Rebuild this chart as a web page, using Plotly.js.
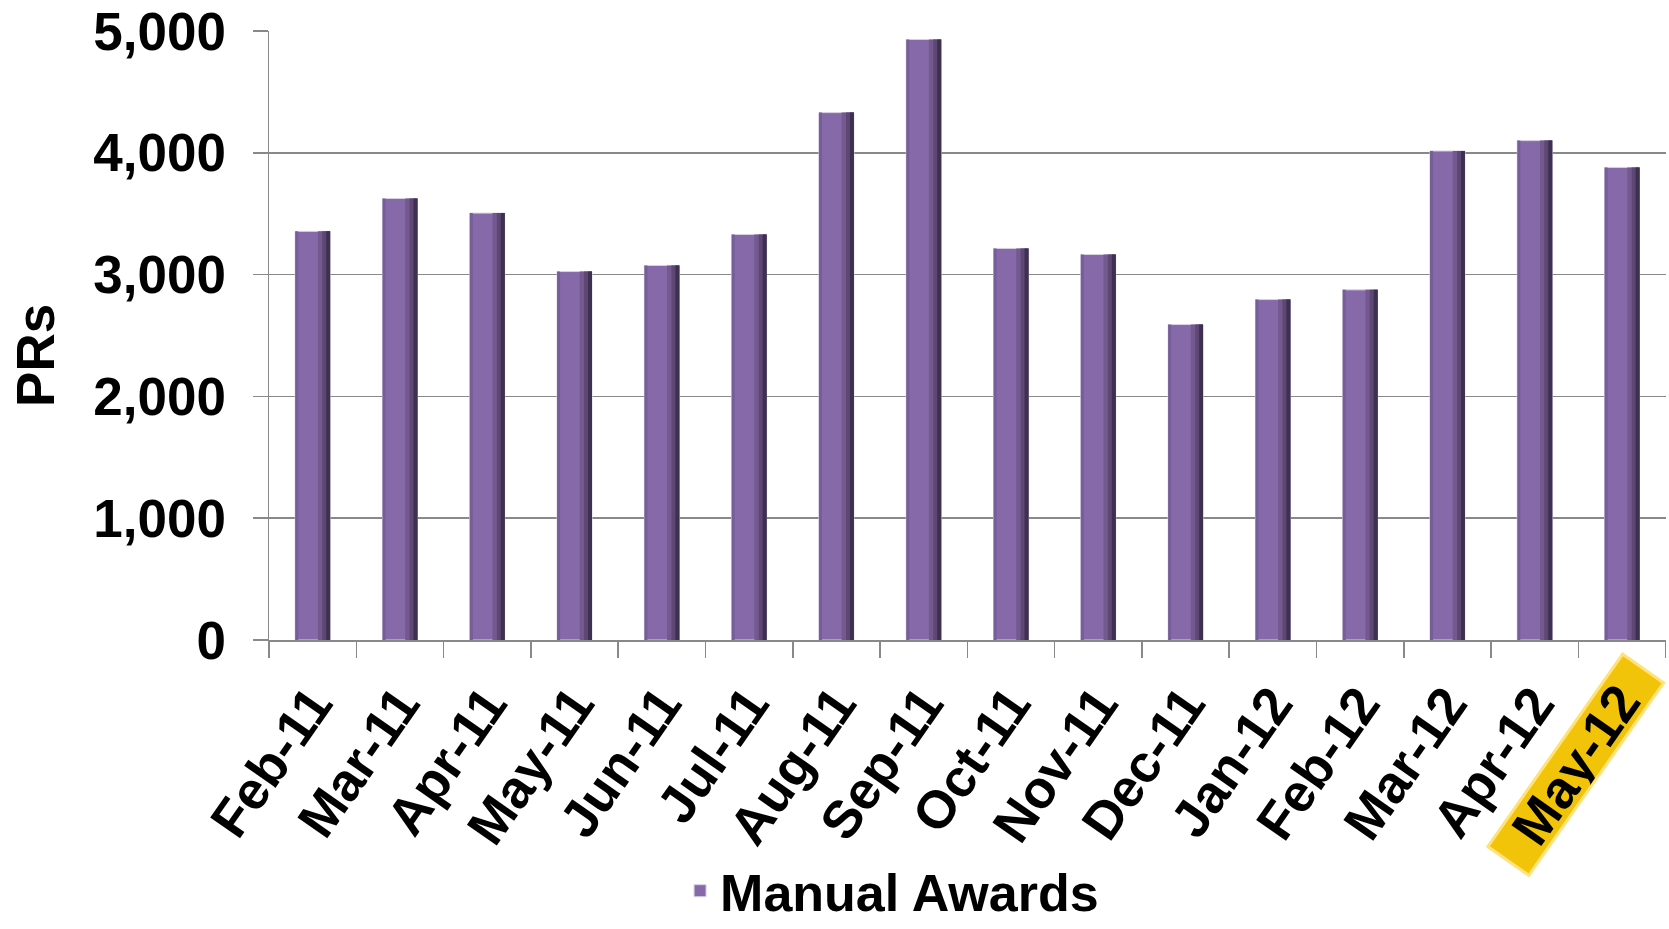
<!DOCTYPE html>
<html>
<head>
<meta charset="utf-8">
<script src="https://cdn.plot.ly/plotly-3.0.1.min.js"></script>
<style>
  html, body { margin: 0; padding: 0; background: #ffffff; }
  #chart { width: 1669px; height: 929px; }
</style>
</head>
<body>
<div id="chart"></div>
<script>
// Monthly purchase requests handled as manual awards
const months = ['Feb-11', 'Mar-11', 'Apr-11', 'May-11', 'Jun-11', 'Jul-11', 'Aug-11', 'Sep-11',
                'Oct-11', 'Nov-11', 'Dec-11', 'Jan-12', 'Feb-12', 'Mar-12', 'Apr-12', 'May-12'];
const manualAwards = [3355, 3625, 3505, 3025, 3075, 3330, 4330, 4930,
                      3215, 3165, 2590, 2795, 2875, 4015, 4100, 3880];
const seriesName = 'Manual Awards';
const yTitle = 'PRs';
const highlightMonth = 'May-12';

const FONT = 'Liberation Sans, Arial, Helvetica, sans-serif';
const BIG = 53;
const ANGLE = -55;
const AXIS_GREY = '#898989';

// Bars are drawn as overlaid strips of one series to give them a bevelled look.
function strip(offset, width, color, extra) {
  return Object.assign({
    type: 'bar',
    x: months,
    y: manualAwards,
    offset: offset,
    width: width,
    marker: { color: color, line: { width: 0 } },
    showlegend: false,
    hoverinfo: 'skip'
  }, extra || {});
}

const traces = [
  strip(-0.2, 0.4, '#8569a9', {
    name: seriesName,
    showlegend: true,
    hoverinfo: 'x+y',
    marker: { color: '#8569a9', line: { color: '#d8d2e2', width: 1 } }
  }),
  strip(-0.2, 0.035, '#765e98'),
  strip(0.06, 0.14, '#74598f'),
  strip(0.11, 0.09, '#5d4875'),
  strip(0.155, 0.045, '#3e3150')
];

const layout = {
  width: 1669,
  height: 929,
  margin: { l: 269, r: 3, t: 31, b: 289, pad: 0, autoexpand: false },
  paper_bgcolor: '#ffffff',
  plot_bgcolor: '#ffffff',
  barmode: 'overlay',
  font: { family: FONT, color: '#000000' },
  xaxis: {
    type: 'category',
    automargin: false,
    tickmode: 'array',
    tickvals: months,
    ticktext: months.map(m => (m === highlightMonth ? ' ' : m)),
    tickson: 'boundaries',
    ticks: 'outside',
    ticklen: 16,
    tickwidth: 1.5,
    tickcolor: AXIS_GREY,
    ticklabelstandoff: 10,
    tickangle: ANGLE,
    tickfont: { family: FONT, size: BIG, weight: 700, color: '#000000' },
    showline: true,
    linecolor: AXIS_GREY,
    linewidth: 1.5,
    showgrid: false,
    zeroline: false,
    fixedrange: true
  },
  yaxis: {
    automargin: false,
    range: [0, 5000],
    dtick: 1000,
    tick0: 0,
    tickformat: ',d',
    ticks: 'outside',
    ticklen: 15,
    tickwidth: 1.5,
    tickcolor: AXIS_GREY,
    ticklabelstandoff: 16,
    tickfont: { family: FONT, size: BIG, weight: 700, color: '#000000' },
    showline: true,
    linecolor: AXIS_GREY,
    linewidth: 1.5,
    showgrid: true,
    gridcolor: AXIS_GREY,
    gridwidth: 1.6,
    zeroline: false,
    fixedrange: true
  },
  legend: {
    orientation: 'h',
    xref: 'paper',
    x: 0.446,
    xanchor: 'center',
    yref: 'container',
    y: 0.041,
    yanchor: 'middle',
    font: { family: FONT, size: 52, weight: 700, color: '#000000' },
    bgcolor: 'rgba(0,0,0,0)',
    itemclick: false,
    itemdoubleclick: false
  },
  annotations: [
    {
      text: yTitle,
      xref: 'paper', yref: 'paper',
      x: -0.1668, y: 0.468,
      xanchor: 'center', yanchor: 'middle',
      textangle: -90,
      showarrow: false,
      font: { family: FONT, size: BIG, weight: 700, color: '#000000' }
    },
    {
      // highlighted label for the latest month
      text: highlightMonth,
      xref: 'x', yref: 'paper',
      x: highlightMonth, y: -0.205,
      xshift: -46,
      xanchor: 'center', yanchor: 'middle',
      textangle: ANGLE,
      width: 232, height: 47,
      align: 'center', valign: 'middle',
      bgcolor: '#f1c40a',
      bordercolor: '#ffe27a',
      borderwidth: 3,
      borderpad: 0,
      showarrow: false,
      font: { family: FONT, size: BIG, weight: 700, color: '#000000' }
    }
  ]
};

Plotly.newPlot('chart', traces, layout, { displayModeBar: false, staticPlot: true });
</script>
</body>
</html>
